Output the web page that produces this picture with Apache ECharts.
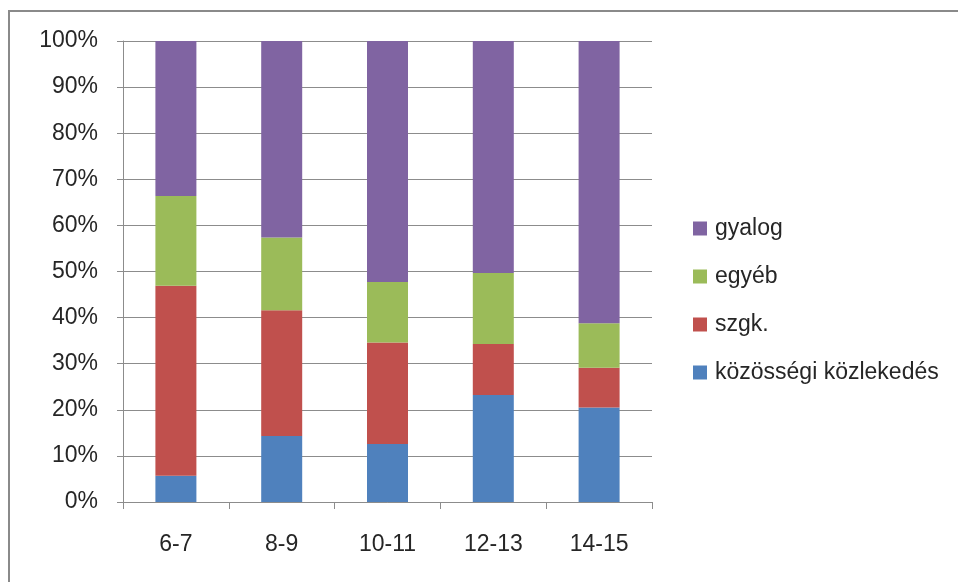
<!DOCTYPE html>
<html>
<head>
<meta charset="utf-8">
<script src="https://cdn.jsdelivr.net/npm/echarts@6/dist/echarts.min.js"></script>
<style>
  html, body { margin: 0; padding: 0; background: #fff; }
  #chart { width: 958px; height: 582px; }
</style>
</head>
<body>
<div id="chart"></div>
<script>
// Age groups on the category axis
const ageGroups = ['6-7', '8-9', '10-11', '12-13', '14-15'];

// Share of each travel mode per age group (percent)
const kozossegi = [5.7, 14.3, 12.6, 23.2, 20.5];
const szgk = [41.2, 27.3, 22.0, 11.1, 8.6];
const egyeb = [19.5, 15.8, 13.1, 15.4, 9.7];
const gyalog = [33.6, 42.6, 52.3, 50.3, 61.2];

const seriesNames = ['közösségi közlekedés', 'szgk.', 'egyéb', 'gyalog'];
const seriesValues = [kozossegi, szgk, egyeb, gyalog];
const seriesColors = ['#4f81bd', '#c0504d', '#9bbb59', '#8064a2'];

const FONT = 'Liberation Sans';
const FONT_SIZE = 23;
const TEXT = '#262626';

const chart = echarts.init(document.getElementById('chart'), null, { renderer: 'canvas' });

chart.setOption({
  animation: false,
  backgroundColor: '#fff',
  textStyle: { fontFamily: FONT },
  graphic: [{
    type: 'polyline',
    shape: { points: [[9, 582], [9, 11], [958, 11]] },
    style: { stroke: '#8a8a8a', lineWidth: 2, fill: null },
    silent: true
  }],
  grid: { left: 123, right: 306, top: 41, bottom: 80, containLabel: false },
  legend: {
    orient: 'vertical',
    left: 688,
    top: 212,
    itemWidth: 14,
    itemHeight: 14,
    itemGap: 25,
    icon: 'rect',
    data: seriesNames.slice().reverse(),
    textStyle: { fontFamily: FONT, fontSize: FONT_SIZE, color: TEXT, padding: [0, 0, 0, 3] }
  },
  xAxis: {
    type: 'category',
    data: ageGroups,
    axisLine: { lineStyle: { color: '#8c8c8c', width: 1 } },
    axisTick: { show: true, length: 7, alignWithLabel: false, lineStyle: { color: '#8c8c8c' } },
    axisLabel: { margin: 31, fontFamily: FONT, fontSize: FONT_SIZE, color: TEXT }
  },
  yAxis: {
    type: 'value',
    min: 0,
    max: 100,
    interval: 10,
    axisLine: { show: true, lineStyle: { color: '#8c8c8c', width: 1 } },
    axisTick: { show: true, length: 6, lineStyle: { color: '#8c8c8c' } },
    splitLine: { lineStyle: { color: '#8c8c8c', width: 1 } },
    axisLabel: { margin: 25, fontFamily: FONT, fontSize: FONT_SIZE, color: TEXT, formatter: '{value}%' }
  },
  series: seriesNames.map((name, i) => ({
    name: name,
    type: 'bar',
    stack: 'total',
    barWidth: 41,
    data: seriesValues[i],
    itemStyle: { color: seriesColors[i] }
  }))
});
</script>
</body>
</html>
